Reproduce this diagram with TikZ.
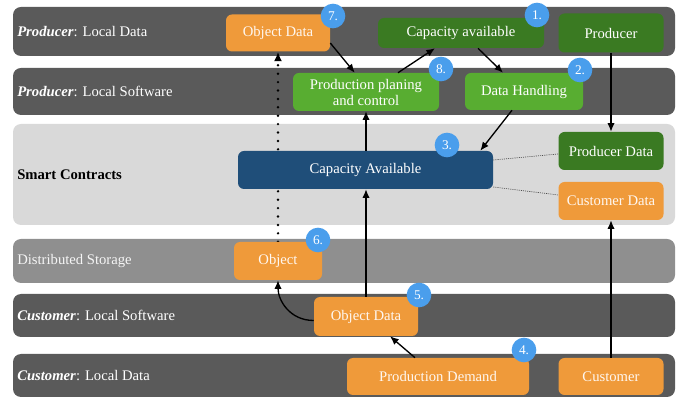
\documentclass[tikz,border=0pt]{standalone}
\usepackage{fontspec}
\setmainfont{Liberation Serif}
\usetikzlibrary{arrows.meta,calc,backgrounds}
\pgfdeclarelayer{bandlayer}
\pgfdeclarelayer{midlayer}
\pgfsetlayers{bandlayer,midlayer,main}
\definecolor{banddark}{HTML}{5A5A5A}
\definecolor{bandlight}{HTML}{D9D9D9}
\definecolor{bandmid}{HTML}{8F8F8F}
\definecolor{orangeC}{HTML}{EF9A3A}
\definecolor{dgreenC}{HTML}{3A7A22}
\definecolor{lgreenC}{HTML}{58AD31}
\definecolor{blueC}{HTML}{1F4E79}
\definecolor{badgeC}{HTML}{4A9EEC}
\tikzset{
  band/.style={rounded corners=6pt},
  lab/.style={anchor=west, font=\fontsize{11}{13}\selectfont, inner sep=0pt},
  box/.style={rounded corners=4.5pt, text=white, font=\fontsize{11}{12}\selectfont, align=center, inner sep=1pt},
  orangebox/.style={box, fill=orangeC, text=white!94!orange},
  dgreenbox/.style={box, fill=dgreenC},
  lgreenbox/.style={box, fill=lgreenC},
  bluebox/.style={box, fill=blueC},
  badge/.style={circle, fill=badgeC, text=white, minimum size=18.5pt, inner sep=0pt, font=\fontsize{10}{11}\selectfont},
  arr/.style={-{Latex[length=6.5pt,width=5.5pt]}, line width=1pt, black},
  dotarr/.style={-{Latex[length=7pt,width=6pt]}, line width=2pt, black, dash pattern=on 0pt off 6.3pt, line cap=round},
  thindot/.style={line width=0.5pt, black!70, dash pattern=on 0.8pt off 0.8pt}
}
\begin{document}
\begin{tikzpicture}[x=0.75pt,y=-0.75pt]
\useasboundingbox (0,0) rectangle (681,398);
% bands
\begin{pgfonlayer}{bandlayer}
\fill[band, banddark] (13,7) rectangle (675,56);
\fill[band, banddark] (13,68) rectangle (675,115);
\fill[band, bandlight] (13,124) rectangle (675,225);
\fill[band, bandmid] (13,239) rectangle (675,283);
\fill[band, banddark] (13,294) rectangle (675,337);
\fill[band, banddark] (13,354) rectangle (675,397);
\end{pgfonlayer}
% band labels
\node[lab, text=white] (l1) at (17,31.5) {\textbf{\textit{Producer}}: Local Data};
\node[lab, text=white] (l2) at (17,91.5) {\textbf{\textit{Producer}}: Local Software};
\node[lab, text=black] (l3) at (17,174.5) {\textbf{Smart Contracts}};
\node[lab, text=white!92!gray] (l4) at (17,261) {Distributed Storage};
\node[lab, text=white] (l5) at (17,315.5) {\textbf{\textit{Customer}}: Local Software};
\node[lab, text=white] (l6) at (17,376) {\textbf{\textit{Customer}}: Local Data};
% nodes
\node[orangebox, minimum width=78pt, minimum height=27.75pt] (objTop) at (278,33) {Object Data};
\node[dgreenbox, minimum width=124.5pt, minimum height=22.5pt] (capAv) at (461,33) {Capacity available};
\node[dgreenbox, minimum width=78.75pt, minimum height=29.25pt] (producer) at (611,33) {Producer};
\node[lgreenbox, minimum width=109.5pt, minimum height=28.5pt] (ppc) at (366,92) {Production planing\\and control};
\node[lgreenbox, minimum width=88.5pt, minimum height=27.75pt] (dh) at (524,91.5) {Data Handling};
\node[bluebox, minimum width=191.25pt, minimum height=28.5pt] (capBlue) at (365.5,170) {Capacity Available};
\node[dgreenbox, minimum width=78.75pt, minimum height=28.5pt] (prodData) at (611,151) {Producer Data};
\node[orangebox, minimum width=78.75pt, minimum height=28.5pt] (custData) at (611,201) {Customer Data};
\node[orangebox, minimum width=66pt, minimum height=28.5pt] (obj) at (278,261) {Object};
\node[orangebox, minimum width=78pt, minimum height=29.25pt] (odc) at (366,316.5) {Object Data};
\node[orangebox, minimum width=136.5pt, minimum height=27.75pt] (pd) at (438,376.5) {Production Demand};
\node[orangebox, minimum width=78.75pt, minimum height=27.75pt] (cust) at (611,376.5) {Customer};
% badges
\node[badge] (b1) at (537,15) {1.};
\node[badge] (b2) at (580,70) {2.};
\node[badge] (b3) at (447,145) {3.};
\node[badge] (b4) at (524,350) {4.};
\node[badge] (b5) at (419,295) {5.};
\node[badge] (b6) at (318,240) {6.};
\node[badge] (b7) at (333,16) {7.};
\node[badge] (b8) at (441,69) {8.};
% dotted connector behind the blue box
\begin{pgfonlayer}{midlayer}
\draw[dotarr] (obj.north) -- (objTop.south);
\end{pgfonlayer}
% connectors
\draw[arr] ($(objTop.east)+(0,10)$) -- ($(ppc.north west)+(62,0)$);
\draw[arr] ($(ppc.north)+(32,0)$) -- ($(capAv.south)+(-26,0)$);
\draw[arr] ($(capAv.south)+(17,0)$) -- ($(dh.north)+(-21,0)$);
\draw[arr] (producer.south) -- (prodData.north);
\draw[arr] ($(dh.south)+(-12,0)$) -- ($(capBlue.north east)+(-13,0)$);
\draw[arr] (capBlue.north -| ppc.south) -- (ppc.south);
\draw[arr] (odc.north) -- (odc.north |- capBlue.south);
\draw[arr] (cust.north) -- (custData.south);
\draw[arr] ($(pd.north)+(-23,0)$) -- ($(odc.south)+(24,0)$);
\draw[arr] ([yshift=-3pt]odc.west) .. controls +(-24,0) and +(0,20) .. (obj.south);
\draw[thindot] ($(capBlue.east)+(0,-10)$) -- ($(prodData.west)+(0,3)$);
\draw[thindot] ($(capBlue.east)+(0,17)$) -- ($(custData.west)+(0,-6)$);
\end{tikzpicture}
\end{document}
